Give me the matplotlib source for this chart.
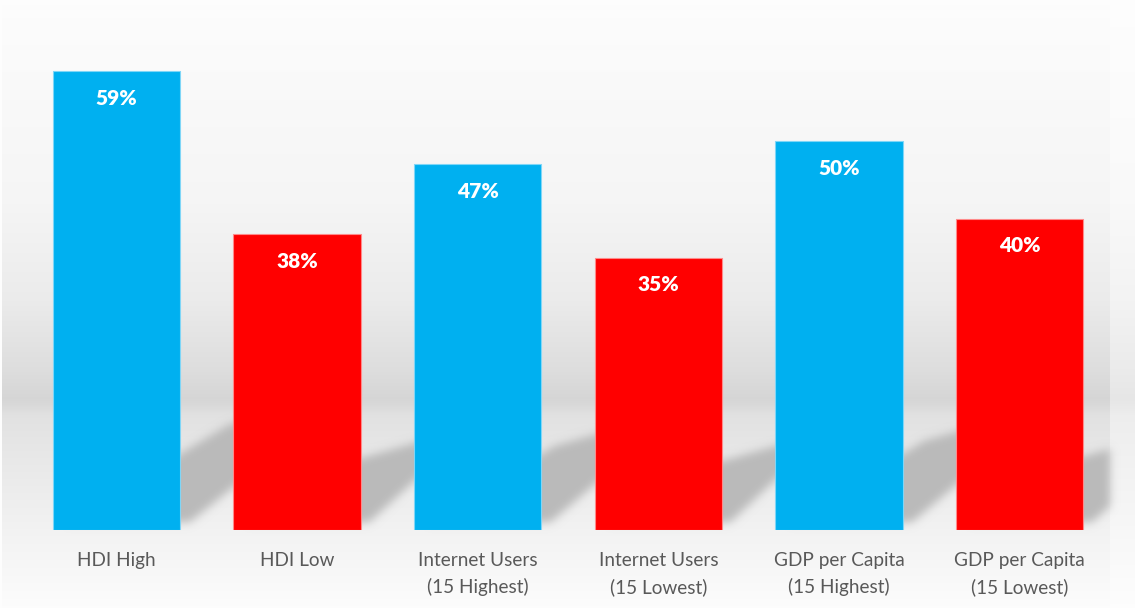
import numpy as np
import matplotlib
matplotlib.use("Agg")
import matplotlib.pyplot as plt
from matplotlib.patches import Polygon

# ---- data -------------------------------------------------------------
categories = [
    "HDI High",
    "HDI Low",
    "Internet Users\n(15 Highest)",
    "Internet Users\n(15 Lowest)",
    "GDP per Capita\n(15 Highest)",
    "GDP per Capita\n(15 Lowest)",
]
values = [59, 38, 47, 35, 50, 40]
value_labels = ["59%", "38%", "47%", "35%", "50%", "40%"]
bar_colors = ["#00B0F0", "#FF0000", "#00B0F0", "#FF0000", "#00B0F0", "#FF0000"]
edge_colors = ["#7FD6F7", "#FF8A8A", "#7FD6F7", "#FF8A8A", "#7FD6F7", "#FF8A8A"]

W, H, DPI = 1135, 608, 100
BAR_WIDTH = 0.705
SHADOW_RISE = 0.23      # shadow height as a fraction of bar height
SHADOW_LEAN = 0.01654   # sideways lean of the shadow per unit of value
SHADOW_TILT = 4.6       # extra height at the far corner of the shadow

plt.rcParams["font.family"] = ["Lato", "DejaVu Sans"]

fig = plt.figure(figsize=(W / DPI, H / DPI), dpi=DPI)
fig.patch.set_facecolor("white")

# ---- backdrop: wall / floor gradient ----------------------------------
yy = np.arange(H, dtype=float)
ys = [0, 5, 200, 300, 370, 398, 404, 415, 440, 530, 600, 608]
gs = [0.995, 0.99, 0.962, 0.922, 0.868, 0.838, 0.85, 0.885, 0.9, 0.95, 0.985, 0.99]
profile = np.interp(yy, ys, gs)
xx = np.arange(W)
panel = np.tile(profile[:, None], (1, W))
outside = 1 - (1 - panel) * 0.6
panel[:, xx >= 1110] = outside[:, xx >= 1110]
panel[:, xx < 2] = 0.995
panel[:5, :] = 0.995
rgb = np.dstack([panel] * 3)

bg = fig.add_axes([0, 0, 1, 1], zorder=0)
bg.imshow(rgb, aspect="auto", extent=(0, W, H, 0), interpolation="bilinear")
bg.set_xlim(0, W)
bg.set_ylim(H, 0)
bg.axis("off")

# ---- main plot --------------------------------------------------------
ax = fig.add_axes([26 / W, 78 / H, 1084 / W, 490 / H], zorder=1)
ax.set_facecolor("none")
x = np.arange(len(categories))


def _gauss_kernel(sigma):
    r = int(3 * sigma)
    t = np.arange(-r, r + 1)
    k = np.exp(-0.5 * (t / sigma) ** 2)
    return k / k.sum()


def soft_shadow(im, dpi, sigma=4.5, color=(0.73, 0.73, 0.73)):
    pad = int(3 * sigma) + 2
    padded = np.pad(im, ((pad, pad), (pad, pad), (0, 0)))
    a = padded[..., 3]
    k = _gauss_kernel(sigma)
    a = np.apply_along_axis(lambda r: np.convolve(r, k, mode="same"), 1, a)
    a = np.apply_along_axis(lambda c: np.convolve(c, k, mode="same"), 0, a)
    out = np.empty_like(padded)
    out[..., 0], out[..., 1], out[..., 2] = color
    out[..., 3] = np.clip(a, 0, 1)
    return out, -pad, -pad


# perspective shadows cast behind each bar, leaning to the upper right
for xi, v in zip(x, values):
    h = SHADOW_RISE * v
    lean = SHADOW_LEAN * v
    left, right = xi - BAR_WIDTH / 2, xi + BAR_WIDTH / 2
    base = 1.0
    f_l = base / h
    f_r = base / (h + SHADOW_TILT)
    poly = Polygon(
        [(left + lean * f_l, base), (right + lean * f_r, base),
         (right + lean, h + SHADOW_TILT), (left + lean, h)],
        closed=True, facecolor="black", edgecolor="none", zorder=1,
    )
    poly.set_agg_filter(soft_shadow)
    ax.add_patch(poly)

bars = ax.bar(x, values, width=BAR_WIDTH, color=bar_colors,
              edgecolor=edge_colors, linewidth=0.8, zorder=3)

for b, lab in zip(bars, value_labels):
    ax.annotate(lab, (b.get_x() + b.get_width() / 2, b.get_height()),
                xytext=(0, -19.5), textcoords="offset points",
                ha="center", va="center", color="white",
                fontsize=15, fontweight="heavy", zorder=4)

ax.set_xlim(-0.5, len(categories) - 0.5)
ax.set_ylim(0, 63)
ax.set_yticks([])
ax.set_xticks(x)
ax.set_xticklabels(categories, fontsize=13.7, color="#595959", linespacing=1.62)
ax.tick_params(axis="x", length=0, pad=15.5)
for s in ax.spines.values():
    s.set_visible(False)

fig.savefig("out.png", dpi=DPI)
